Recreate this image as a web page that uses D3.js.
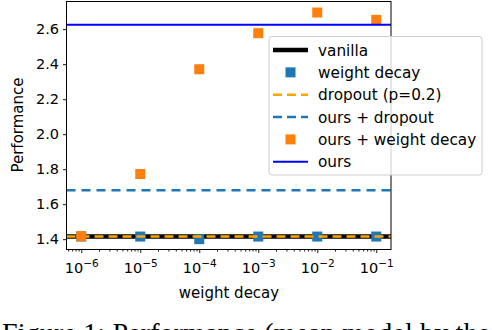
<!DOCTYPE html>
<html lang="en">
<head>
<meta charset="UTF-8">
<title>Performance vs weight decay</title>
<script src="https://d3js.org/d3.v7.min.js"></script>
<style>
  body { margin: 0; background: #fff; }
  text { font-family: "DejaVu Sans", sans-serif; fill: #000; }
</style>
</head>
<body>
<svg id="chart" width="492" height="330"></svg>
<script>
// values
const decays = [1e-6, 1e-5, 1e-4, 1e-3, 1e-2, 1e-1]
const weightDecay = [1.415, 1.415, 1.40, 1.415, 1.415, 1.415]
const oursWeightDecay = [1.417, 1.772, 2.371, 2.577, 2.695, 2.653]
const vanilla = 1.415
const dropout = 1.415
const oursDropout = 1.68
const ours = 2.625
const yTicks = [1.4, 1.6, 1.8, 2.0, 2.2, 2.4, 2.6]
const legendNames = ["vanilla", "weight decay", "dropout (p=0.2)", "ours + dropout", "ours + weight decay", "ours"]

const svg = d3.select("#chart")
const plotL = 66.5, plotR = 391, plotT = 1.5, plotB = 249.5

let x = d3.scaleLog().domain([Math.pow(10, -6.25), Math.pow(10, -0.75)]).range([plotL, plotR])
let y = d3.scaleLinear().domain([1.341, 2.758]).range([plotB, plotT])

// horizontal reference lines
function hline(v, color, width, dash) {
  svg.append("line")
    .attr("x1", plotL).attr("x2", plotR)
    .attr("y1", y(v)).attr("y2", y(v))
    .attr("stroke", color).attr("stroke-width", width)
    .attr("stroke-dasharray", dash || null)
}
function squares(vals, color) {
  svg.append("g").selectAll("rect")
    .data(vals).enter()
    .append("rect")
      .attr("x", (d, i) => x(decays[i]) - 5)
      .attr("y", d => y(d) - 5)
      .attr("width", 10).attr("height", 10)
      .attr("fill", color)
}

hline(vanilla, "#000", 4.5)
squares(weightDecay, "#1f77b4")
hline(dropout, "orange", 2.5, "9,5")
hline(oursDropout, "#1f77b4", 2.5, "9,6")
squares(oursWeightDecay, "#ff7f0e")
hline(ours, "blue", 2)

// axes
let yAxis = d3.axisLeft(y).tickValues(yTicks).tickSize(3.5).tickPadding(4).tickFormat(d3.format(".1f"))
let yG = svg.append("g").attr("transform", `translate(${plotL},0)`).call(yAxis)

let xAxis = d3.axisBottom(x).tickValues(decays).tickSize(3.5).tickPadding(5).tickFormat("")
let xG = svg.append("g").attr("transform", `translate(0,${plotB})`).call(xAxis)

let minor = []
for (let e = -7; e <= -1; e++) for (let k = 2; k <= 9; k++) {
  let v = k * Math.pow(10, e)
  if (v > x.domain()[0] && v < x.domain()[1]) minor.push(v)
}
let xMinor = d3.axisBottom(x).tickValues(minor).tickSize(2).tickFormat("")
let xmG = svg.append("g").attr("transform", `translate(0,${plotB})`).call(xMinor)

;[yG, xG, xmG].forEach(g => {
  g.select(".domain").remove()
  g.selectAll("line").attr("stroke", "#000").attr("stroke-width", 0.9)
})
yG.selectAll("text").attr("font-size", 14.5).attr("font-family", "DejaVu Sans").attr("fill", "#000")

// log tick labels with superscripts
xG.selectAll(".tick").each(function (d) {
  let t = d3.select(this).append("text")
    .attr("y", 23).attr("text-anchor", "middle")
    .attr("font-size", 14.5)
  t.append("tspan").text("10")
  t.append("tspan").attr("dy", -6).attr("font-size", 10.5).text("\u2212" + Math.round(-Math.log10(d)))
})

// frame
svg.append("rect")
  .attr("x", plotL).attr("y", plotT)
  .attr("width", plotR - plotL).attr("height", plotB - plotT)
  .attr("fill", "none").attr("stroke", "#000").attr("stroke-width", 1)

// axis labels
svg.append("text").attr("x", 229).attr("y", 298).attr("text-anchor", "middle")
  .attr("font-size", 15).text("weight decay")
svg.append("text").attr("transform", "translate(23,125) rotate(-90)").attr("text-anchor", "middle")
  .attr("font-size", 15).text("Performance")

// legend
let lg = svg.append("g")
lg.append("rect").attr("x", 269).attr("y", 36.5).attr("width", 213).attr("height", 138.5)
  .attr("rx", 3).attr("fill", "#fff").attr("fill-opacity", 0.8)
  .attr("stroke", "#ccc").attr("stroke-width", 1)
const legendStyle = [
  {type: "line", color: "#000", width: 4.5},
  {type: "rect", color: "#1f77b4"},
  {type: "line", color: "orange", width: 2.5, dash: "9,5"},
  {type: "line", color: "#1f77b4", width: 2.5, dash: "9,5"},
  {type: "rect", color: "#ff7f0e"},
  {type: "line", color: "blue", width: 2}
]
legendNames.forEach((name, i) => {
  let cy = 50 + i * 22.35
  let s = legendStyle[i]
  if (s.type == "line") {
    lg.append("line").attr("x1", 273).attr("x2", 308).attr("y1", cy).attr("y2", cy)
      .attr("stroke", s.color).attr("stroke-width", s.width).attr("stroke-dasharray", s.dash || null)
  } else {
    lg.append("rect").attr("x", 285.5).attr("y", cy - 5).attr("width", 10).attr("height", 10).attr("fill", s.color)
  }
  lg.append("text").attr("x", 318).attr("y", cy + 5.5).attr("font-size", 15.3).text(name)
})

// caption (only the top of it shows at the bottom edge)
svg.append("text").attr("x", 2).attr("y", 342)
  .style("font-family", "Liberation Serif")
  .attr("font-size", 28)
  .attr("textLength", 488).attr("lengthAdjust", "spacing")
  .text("Figure 1: Performance (mean model by the")
</script>
</body>
</html>
